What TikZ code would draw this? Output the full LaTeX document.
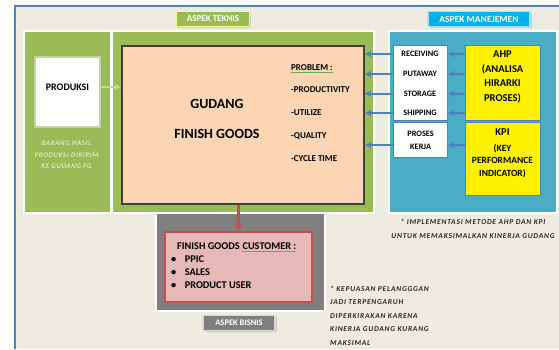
\documentclass[tikz,border=0pt]{standalone}
\usepackage{fontspec}
\setmainfont{Carlito}
\newfontfamily\widefont[LetterSpace=10]{Carlito}
\usetikzlibrary{shapes, arrows, positioning, shadows}

\definecolor{tanbg}{HTML}{EEECE1}
\definecolor{edgeblue}{HTML}{4F81BD}
\definecolor{leafgreen}{HTML}{9BBB59}
\definecolor{palegreen}{HTML}{C3D69B}
\definecolor{seablue}{HTML}{4BACC6}
\definecolor{skyblue}{HTML}{00B0F0}
\definecolor{peach}{HTML}{FCD5B5}
\definecolor{rosepink}{HTML}{E6B9B8}
\definecolor{brickred}{HTML}{C0504D}
\definecolor{slategray}{HTML}{7F7F7F}
\definecolor{checkgreen}{HTML}{6FA84A}

\begin{document}
\begin{tikzpicture}[x=1pt, y=-1pt,
        panel/.style={draw=white, rectangle, line width=1.5pt, inner sep=0pt, anchor=north west, drop shadow={shadow xshift=1pt, shadow yshift=-1pt, opacity=0.3}},
        tag/.style={rectangle, line width=1.5pt, inner sep=0pt, minimum height=15pt, text=white, drop shadow={shadow xshift=1.5pt, shadow yshift=-1.5pt, opacity=0.3}},
        box/.style={draw=edgeblue, rectangle, line width=1.2pt, inner sep=0pt, anchor=north west},
        caps/.style={inner sep=0pt, font=\fontsize{8.3}{13}\selectfont\bfseries},
        problist/.style={inner sep=0pt, anchor=west, font=\fontsize{9}{10}\selectfont\bfseries},
        item/.style={inner sep=0pt, anchor=base west, font=\fontsize{10.3}{11}\selectfont\bfseries},
        note/.style={inner sep=0pt, text=black!85, font=\widefont\fontsize{7.5}{13.5}\selectfont\bfseries\itshape},
        arrow/.style={->, >=stealth, line width=2pt, edgeblue}
    ]
    \useasboundingbox (0,0) rectangle (559,349);
    \fill[white] (0,0) rectangle (559,349);
    \fill[tanbg] (15,6) rectangle (559,349);
    \draw[edgeblue, line width=1.5pt] (15,349) -- (15,6) -- (559,6);

    % aspek bisnis (behind the green panels)
    \node[panel, fill=slategray, minimum width=169pt, minimum height=102pt] (bisnis) at (155,208) {};
    \node[tag, fill=slategray, draw=black!15, minimum width=72pt, font=\fontsize{8.5}{9}\selectfont\bfseries] (bisnistag) at (239,323) {ASPEK BISNIS};

    % aspek teknis
    \node[panel, fill=leafgreen, minimum width=87pt, minimum height=182pt] (prodpanel) at (23,30) {};
    \node[panel, fill=leafgreen, minimum width=262pt, minimum height=182pt] (gudpanel) at (111,30) {};
    \node[tag, fill=leafgreen, draw=yellow!45, minimum width=73pt, font=\fontsize{9}{10}\selectfont\bfseries] (teknistag) at (213,19) {ASPEK TEKNIS};

    \node[rectangle, fill=white, draw=palegreen, line width=2pt, minimum width=65pt, minimum height=70pt, text depth=10pt, anchor=north west, font=\fontsize{10}{11}\selectfont\bfseries] (produksi) at (34,56) {PRODUKSI};
    \node[align=center, inner sep=0pt, text=green!8!white, font=\widefont\fontsize{7}{11.5}\selectfont\itshape] (kirim) at (66.5,155) {BARANG HASIL\\PRODUKSI DIKIRIM\\KE GUDANG FG};

    \node[rectangle, fill=peach, draw=black!75, line width=2pt, minimum width=242pt, minimum height=158pt, anchor=north west] (gudang) at (121,45) {};
    \node[font=\fontsize{14}{16}\selectfont\bfseries] (gudtitle) at (217,104) {GUDANG};
    \node[font=\fontsize{14}{16}\selectfont\bfseries] (fgtitle) at (217,134) {FINISH GOODS};

    \node[problist] (problem) at (291,68) {PROBLEM :};
    \node[problist] (productivity) at (291,90) {-PRODUCTIVITY};
    \node[problist] (utilize) at (291,113) {-UTILIZE};
    \node[problist] (quality) at (291,136) {-QUALITY};
    \node[problist] (cycle) at (291,159) {-CYCLE TIME};
    \draw[checkgreen, line width=0.5pt] ([yshift=-1.5pt]problem.south west) -- ([yshift=-1.5pt]problem.south east);

    \draw[->, >=stealth, line width=2pt, palegreen] ([yshift=5pt]produksi.east) -- ([yshift=5pt]produksi.east -| gudang.west);

    % aspek manajemen
    \node[panel, fill=seablue, minimum width=168pt, minimum height=182pt] (manpanel) at (388,30) {};
    \node[tag, fill=skyblue, draw=cyan!35, minimum width=102pt, font=\fontsize{9.5}{10}\selectfont\bfseries] (mantag) at (479,19) {ASPEK MANEJEMEN};

    \node[box, fill=white, minimum width=54pt, minimum height=75pt] (steps) at (393,45) {};
    \node[box, fill=white, minimum width=54pt, minimum height=35pt, align=center, caps] (kerja) at (393,122) {PROSES\\KERJA};
    \node[caps] (receiving) at (420,54) {RECEIVING};
    \node[caps] (putaway) at (420,74) {PUTAWAY};
    \node[caps] (storage) at (420,93.5) {STORAGE};
    \node[caps] (shipping) at (420,113) {SHIPPING};

    \node[box, fill=yellow, minimum width=75pt, minimum height=75pt] (ahp) at (465,45) {};
    \node[box, fill=yellow, minimum width=75pt, minimum height=73pt] (kpi) at (465,122) {};
    \node[align=center, inner sep=0pt, font=\fontsize{10.5}{14.5}\selectfont\bfseries] (ahptext) at (502.5,77) {AHP\\(ANALISA\\HIRARKI\\PROSES)};
    \node[inner sep=0pt, font=\fontsize{10.5}{11}\selectfont\bfseries] (kpititle) at (502.5,132) {KPI};
    \node[align=center, inner sep=0pt, font=\fontsize{9.5}{12.5}\selectfont\bfseries] (kpitext) at (502.5,161) {(KEY\\PERFORMANCE\\INDICATOR)};

    \draw[arrow] (ahp.west |- receiving) -- (steps.east |- receiving);
    \draw[arrow] (ahp.west |- putaway) -- (steps.east |- putaway);
    \draw[arrow] (ahp.west |- storage) -- (steps.east |- storage);
    \draw[arrow] (ahp.west |- shipping) -- (steps.east |- shipping);
    \draw[arrow] ([yshift=-5pt]kerja.east -| kpi.west) -- ([yshift=-5pt]kerja.east);
    \draw[arrow] (steps.west |- receiving) -- (gudang.east |- receiving);
    \draw[arrow] (steps.west |- putaway) -- (gudang.east |- putaway);
    \draw[arrow] (steps.west |- storage) -- (gudang.east |- storage);
    \draw[arrow] (steps.west |- shipping) -- (gudang.east |- shipping);
    \draw[arrow] ([yshift=-5pt]kerja.west) -- ([yshift=-5pt]kerja.west -| gudang.east);

    \node[note, align=center] (ahpnote) at (473,229) {* IMPLEMENTASI METODE AHP DAN KPI\\UNTUK MEMAKSIMALKAN KINERJA GUDANG};

    % customer
    \node[rectangle, fill=rosepink, draw=brickred, line width=2pt, minimum width=147pt, minimum height=70pt, anchor=north west] (custbox) at (164,231) {};
    \node[item] (fgcust) at (177,249.5) {FINISH GOODS};
    \node[item, base right=2.4pt of fgcust] (cust) {CUSTOMER :};
    \draw[checkgreen, line width=0.5pt] ([yshift=-1.5pt]cust.base west) -- ([yshift=-1.5pt]cust.base east);
    \node[item] (ppic) at (171,262.5) {\textbullet\hspace{8.5pt}PPIC};
    \node[item] (sales) at (171,275.5) {\textbullet\hspace{8.5pt}SALES};
    \node[item] (user) at (171,288.5) {\textbullet\hspace{8.5pt}PRODUCT USER};
    \draw[->, >=stealth, line width=2.5pt, brickred] (gudang.south -| custbox.north) -- (custbox.north);

    \node[note, align=left, anchor=north west] (kepuasan) at (330,285.5) {* KEPUASAN PELANGGGAN\\JADI TERPENGARUH\\DIPERKIRAKAN KARENA\\KINERJA GUDANG KURANG\\MAKSIMAL};
\end{tikzpicture}
\end{document}
